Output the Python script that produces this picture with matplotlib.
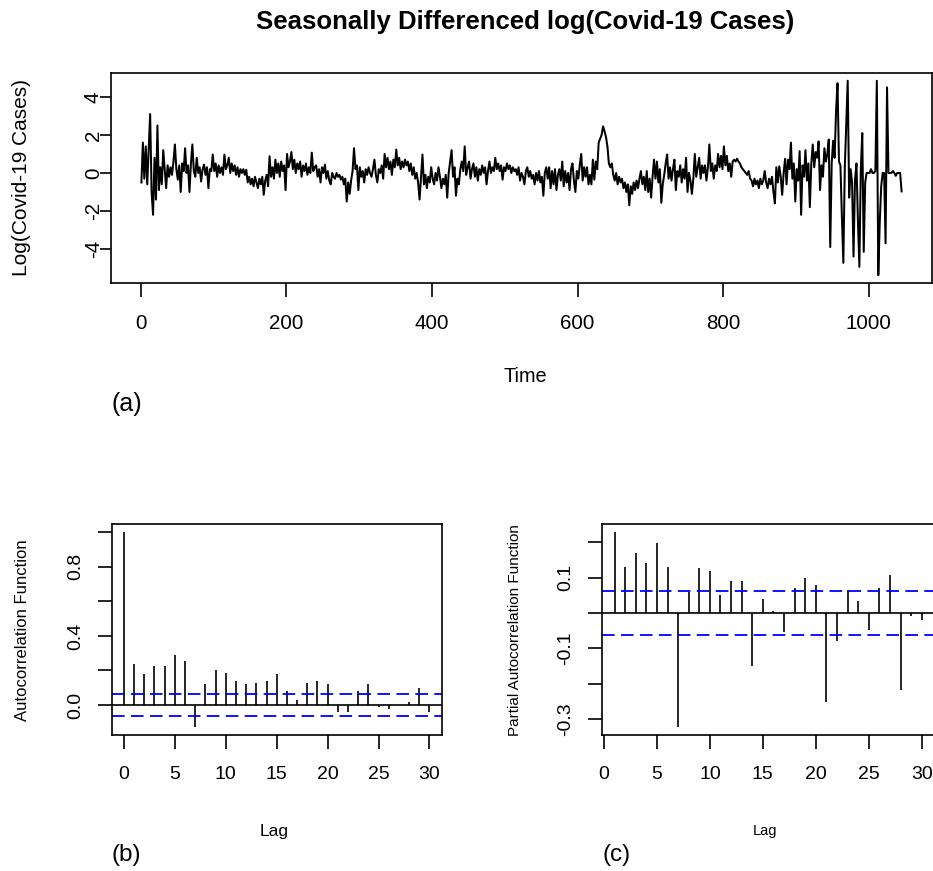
import numpy as np
import matplotlib
matplotlib.use("Agg")
import matplotlib.pyplot as plt

plt.rcParams['font.family'] = ['Liberation Sans', 'DejaVu Sans']
plt.rcParams['axes.unicode_minus'] = False

# seasonally differenced log cases, every 2 days (t = 1, 3, 5, ...)
cases_diff = [
    -0.5, 1.6, -0.3, 1.4, -0.6, 1.2, 3.1, -1.0, -2.2, 0.8,
    -1.4, 2.5, -0.9, 0.3, -0.6, 1.2, 0.2, -0.8, 0.4, -0.2,
    0.3, -0.1, 0.6, 1.5, 0.2, -0.35, 0.4, -1.0, 0.5, 0.1,
    1.3, 0.0, 0.4, -1.0, 0.5, 1.5, 0.1, -0.2, 0.8, 0.0,
    0.3, -0.45, 0.2, 0.44, -0.1, 0.3, -0.8, 0.2, 0.1, 0.97,
    0.1, 0.5, -0.2, 0.4, 0.0, 0.3, -0.1, 0.97, 0.2, 0.4,
    0.8, 0.0, 0.5, 0.1, 0.4, -0.1, 0.3, -0.2, 0.2, 0.0,
    0.2, -0.1, 0.17, -0.5, -0.2, -0.6, -0.3, -0.7, -0.2, -0.5,
    -0.8, -0.3, -0.6, -0.2, -1.15, -0.4, -0.1, -0.7, 0.88, -0.2,
    0.3, -0.3, 0.7, 0.0, 0.5, -0.2, 0.6, 0.1, 0.4, -0.9,
    1.0, 0.3, 0.6, 1.1, 0.2, 0.7, 0.0, 0.5, 0.2, 0.6,
    -0.2, 0.4, 0.1, 0.5, -0.1, 0.3, 0.0, 1.07, 0.1, 0.3,
    0.4, -0.2, 0.2, -0.5, 0.3, 0.0, 0.44, -0.3, 0.1, -0.4,
    -0.6, 0.0, -0.2, -0.3, 0.0, -0.2, -0.1, -0.35, -0.2, -0.6,
    -0.3, -1.5, -0.5, -1.1, -0.4, 0.1, 1.3, 0.2, 0.4, -0.9,
    0.3, -0.2, 0.1, -0.5, 0.2, -0.1, 0.3, 0.0, -0.2, 0.2,
    0.7, -0.1, -0.5, 0.2, 0.0, 0.4, -0.3, 1.0, 0.3, 0.8,
    0.2, 0.6, -0.1, 0.7, 0.3, 1.23, 0.4, 0.8, 0.2, 0.6,
    0.3, 0.7, 0.4, 0.6, 0.1, 0.5, -0.1, 0.3, -0.3, 0.0,
    -0.5, -1.4, -0.2, 0.97, -0.6, -0.1, -0.8, -0.2, -0.5, 0.3,
    -0.3, -0.6, 0.0, -0.4, 0.3, -0.2, -0.8, -0.3, -0.6, -0.1,
    -1.3, 0.0, 0.6, 1.2, -0.2, 0.3, -1.2, -0.3, -0.6, 0.2,
    0.6, 0.1, 1.4, -0.1, 0.3, 0.6, -0.3, 0.2, 0.5, -0.2,
    0.3, -0.4, 0.2, -0.1, 0.4, 0.0, 0.3, -0.6, 0.1, 0.6,
    0.0, 0.3, 0.1, 0.8, 0.2, 0.5, 0.1, 0.4, -0.35, 0.3,
    0.1, 0.5, 0.2, 0.4, 0.0, 0.3, 0.1, 0.2, -0.1, 0.3,
    -0.4, 0.0, -0.2, -0.6, 0.1, 0.3, -0.2, 0.1, -0.3, -0.1,
    -0.6, 0.0, -0.4, 0.1, -0.5, -0.2, -1.2, 0.0, 0.3, -0.3,
    0.3, -0.8, 0.1, -0.6, 0.2, -0.9, -0.1, 0.2, -0.4, 0.6,
    -0.7, 0.1, -0.5, 0.0, -0.9, 0.2, 0.5, -0.4, -1.0, 0.1,
    -0.3, 0.4, 1.0, -0.4, 0.3, -0.2, 0.3, -0.6, -0.1, -0.6,
    0.7, -0.35, 0.6, 0.2, 1.6, 1.8, 2.0, 2.45, 2.2, 1.9,
    1.4, 0.5, 0.3, 0.5, -0.1, -0.4, 0.0, -0.6, -0.2, -0.5,
    -0.3, -0.8, -0.5, -1.0, -0.6, -1.7, -0.7, -1.1, -0.5, -0.9,
    -0.4, -0.8, -0.3, 0.1, -0.6, -0.2, -0.9, 0.1, -1.0, -0.3,
    -1.3, -0.2, 0.7, -0.3, 0.6, -0.5, 0.2, -1.57, -0.6, -0.1,
    0.5, 0.97, -0.3, 0.3, -0.4, 0.2, 0.7, -0.9, 0.1, -0.2,
    0.4, -0.5, 0.2, -0.3, 0.8, -1.0, 0.0, -0.4, -1.1, -0.3,
    1.0, -0.2, 0.3, 0.8, -0.3, 0.4, 0.0, 0.4, -0.4, 0.3,
    1.5, 0.1, 0.5, -0.3, 0.4, 0.1, 1.0, 0.3, 0.9, 0.2,
    1.4, 0.4, 0.9, 0.1, 0.5, -0.2, 0.6, 0.7, 0.6, 0.75,
    0.6, 0.5, 0.3, 0.2, 0.1, 0.0, -0.1, 0.1, -0.3, -0.4,
    -0.7, -0.3, -0.6, -0.4, -0.8, -0.3, -0.6, -0.4, 0.1, -0.5,
    -0.8, -0.3, -0.6, -0.2, -1.0, -1.6, 0.3, -0.5, 0.35, -0.2,
    -1.15, 0.0, 0.75, -0.6, 0.7, 0.2, 1.6, -0.3, 0.5, -1.5,
    0.2, -0.4, 1.15, -2.2, 0.4, -0.2, 1.2, -0.4, 0.5, -1.8,
    0.5, 1.5, 0.3, 1.1, 0.8, 1.66, -0.9, 0.4, -0.2, 1.3,
    0.6, 1.0, 1.76, -3.9, 0.5, 1.7, 0.8, 3.26, 4.72, 0.6,
    0.4, -2.3, -4.73, 0.3, 2.55, 4.85, -1.3, 0.2, -0.5, -4.4,
    -0.4, 0.5, -2.47, -4.94, 0.2, 2.1, -4.15, -0.5, 0.0, 0.0,
    0.0, 0.2, 0.0, 0.0, 0.1, 4.85, -5.38, -2.6, -0.7, 0.0,
    0.0, -3.7, 4.5, 0.0, 0.0, 0.0, 0.1, 0.0, -0.15, 0.0,
    0.0, 0.0, -0.97,
]
time_step = 2

acf_lags = np.arange(0, 31)
acf_vals = [1.0, 0.236, 0.178, 0.226, 0.226, 0.292, 0.253, -0.128, 0.12, 0.205,
            0.187, 0.139, 0.12, 0.129, 0.139, 0.178, 0.081, 0.027, 0.129, 0.139,
            0.12, -0.039, -0.039, 0.081, 0.12, -0.014, -0.021, 0.003, 0.017, 0.1,
            -0.039]

pacf_lags = np.arange(1, 31)
pacf_vals = [0.228, 0.131, 0.169, 0.141, 0.197, 0.131, -0.322, 0.058, 0.127, 0.117,
             0.052, 0.089, 0.089, -0.150, 0.039, 0.005, -0.054, 0.070, 0.099, 0.080,
             -0.252, -0.080, 0.066, 0.033, -0.049, 0.070, 0.106, -0.216, -0.008, -0.021]

ci = 0.063

W, H = 933, 871
fig = plt.figure(figsize=(W / 100, H / 100), dpi=100)


def px_axes(left, top, right, bottom):
    return fig.add_axes([left / W, 1 - bottom / H, (right - left) / W, (bottom - top) / H])


def r_style(ax, fs, ylen=10, ypad=10):
    for s in ax.spines.values():
        s.set_linewidth(1.2)
        s.set_color('black')
    ax.tick_params(direction='out', length=10, width=1.2, colors='black',
                   labelsize=fs, pad=12)
    ax.tick_params(axis='y', labelrotation=90, length=ylen, pad=ypad)
    for lab in ax.get_yticklabels():
        lab.set_va('center')


def pad_range(lo, hi):
    r = hi - lo
    return lo - 0.04 * r, hi + 0.04 * r


def ftext(x, y, s, **kw):
    fig.text(x / W, 1 - y / H, s, ha='center', va='center', **kw)


# (a) time series
series = np.array(cases_diff)
t = 1 + time_step * np.arange(len(series))
ax1 = px_axes(111, 73, 932, 283)
ax1.plot(t, series, color='black', lw=1.45)
ax1.set_xlim(*pad_range(t.min(), t.max()))
ax1.set_ylim(*pad_range(series.min(), series.max()))
ax1.set_xticks([0, 200, 400, 600, 800, 1000])
ax1.set_yticks([-4, -2, 0, 2, 4])
ax1.set_yticklabels(['-4', '-2', '0', '2', '4'])
r_style(ax1, 14.8, ylen=8, ypad=-2.2)

# (b) ACF
ax2 = px_axes(111.7, 524.3, 441.7, 735)
ax2.vlines(acf_lags, 0, acf_vals, color='black', lw=1.2)
ax2.axhline(0, color='black', lw=1.2)
for c in (ci, -ci):
    ax2.axhline(c, color='#0000FF', lw=1.3, dashes=(7, 3.5))
ax2.set_xlim(*pad_range(0, 30))
ax2.set_ylim(*pad_range(min(min(acf_vals), -ci), max(acf_vals)))
ax2.set_xticks([0, 5, 10, 15, 20, 25, 30])
ax2.set_yticks([0, 0.2, 0.4, 0.6, 0.8, 1.0])
ax2.set_yticklabels(['0.0', '', '0.4', '', '0.8', ''])
r_style(ax2, 14)

# (c) PACF
ax3 = px_axes(602.3, 524.3, 934, 735)
ax3.vlines(pacf_lags, 0, pacf_vals, color='black', lw=1.2)
ax3.axhline(0, color='black', lw=1.2)
for c in (ci, -ci):
    ax3.axhline(c, color='#0000FF', lw=1.3, dashes=(7, 3.5))
ax3.set_xlim(*pad_range(1, 30))
ax3.set_ylim(*pad_range(min(pacf_vals), max(pacf_vals)))
ax3.set_xticks([0, 5, 10, 15, 20, 25, 30])
ax3.set_yticks([-0.3, -0.2, -0.1, 0.0, 0.1, 0.2])
ax3.set_yticklabels(['-0.3', '', '-0.1', '', '0.1', ''])
r_style(ax3, 14)

# labels
ftext(525, 22, 'Seasonally Differenced log(Covid-19 Cases)', fontsize=18.5, fontweight='bold')
ftext(22, 178, 'Log(Covid-19 Cases)', fontsize=15, rotation=90)
ftext(525, 377, 'Time', fontsize=14.3)
ftext(127, 404, '(a)', fontsize=18)

ftext(23, 630, 'Autocorrelation Function', fontsize=12, rotation=90)
ftext(274, 831, 'Lag', fontsize=12.5)
ftext(126, 855, '(b)', fontsize=17.5)

ftext(515, 630, 'Partial Autocorrelation Function', fontsize=11, rotation=90)
ftext(765, 831, 'Lag', fontsize=10.5)
ftext(617, 855, '(c)', fontsize=17.5)

fig.savefig('out.png', dpi=100)
